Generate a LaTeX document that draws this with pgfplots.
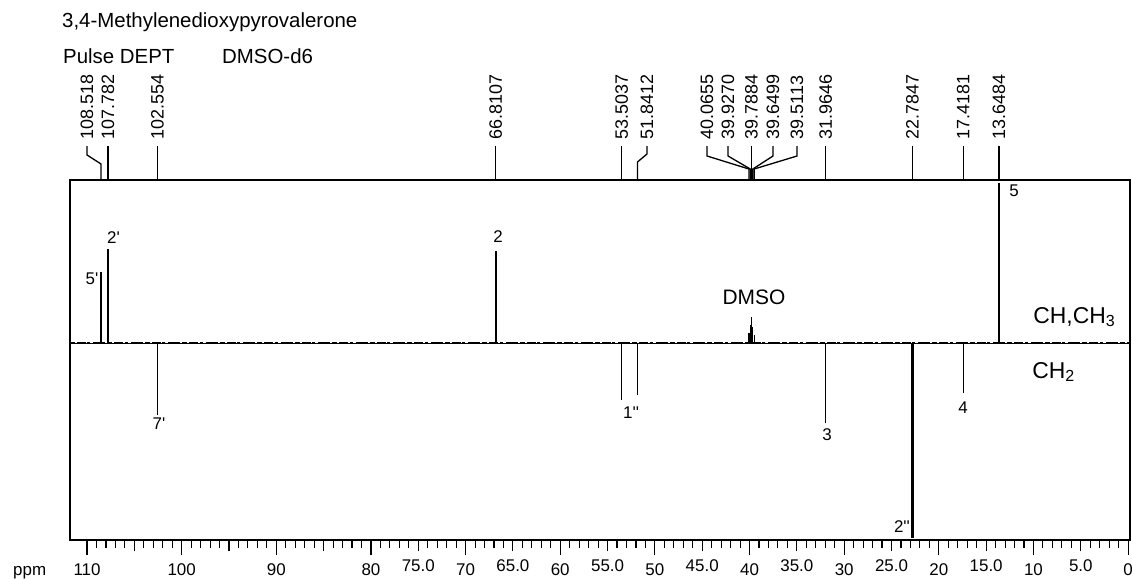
\documentclass[border=0pt]{standalone}
\usepackage{fontspec}
\setmainfont{Liberation Sans}[Ligatures=TeXOff]
\usepackage{pgfplots}
\pgfplotsset{compat=1.18}

\begin{document}
\begin{tikzpicture}
\path[use as bounding box] (-70bp,-39bp) rectangle (1062bp,540bp);
\begin{axis}[
	at={(0,0)}, anchor=south west,
	scale only axis, width=1060bp, height=360bp,
	xmin=-0.2, xmax=111.8, ymin=-197, ymax=163,
	x dir=reverse, clip=false,
	ytick=\empty, xtick pos=left, tick align=outside,
	xtick={0,10,20,30,40,50,60,70,80,90,100,110},
	xticklabels={0,10,20,30,40,50,60,70,80,90,100,110},
	extra x ticks={5,15,25,35,45,55,65,75,85,95,105},
	extra x tick labels={5.0,15.0,25.0,35.0,45.0,55.0,65.0,75.0,,,},
	extra x tick style={major tick length=11bp},
	minor x tick num=9,
	major tick length=15bp, minor tick length=8bp,
	tick style={line width=1.1bp, black},
	axis line style={line width=1.3bp},
	xticklabel style={font=\fontsize{17}{20}\selectfont, anchor=base, yshift=-20bp},
]
% baseline with noise
\addplot[line width=0.8bp, no marks] coordinates {(111.8,0) (-0.2,0)};
\addplot[line width=2.2bp, no marks, dash pattern=on 5bp off 2bp on 9bp off 1.5bp on 3bp off 3bp on 12bp off 2bp] coordinates {(111.8,0) (-0.2,0)};
% peaks
\addplot[ycomb, line width=1.5bp, no marks] coordinates {
(108.518,71) (107.782,94) (102.554,-72) (66.8107,92) (53.5037,-57)
(51.8412,-52) (31.9646,-80) (17.4181,-50) (13.6484,160)};
\addplot[ycomb, line width=2.2bp, no marks] coordinates {(22.7847,-195)};
\addplot[ycomb, line width=1.2bp, no marks] coordinates {
(40.0655,10) (39.9270,18) (39.7884,26) (39.6499,16) (39.5113,8)};

% peak assignments
\begin{scope}[font=\fontsize{17}{20}\selectfont]
\node at (axis cs:109.48,64) {5'};
\node at (axis cs:107.2,105) {2'};
\node at (axis cs:102.4,-81) {7'};
\node at (axis cs:66.58,106) {2};
\node at (axis cs:52.52,-70) {1''};
\node at (axis cs:31.81,-92) {3};
\node at (axis cs:17.44,-65) {4};
\node at (axis cs:23.89,-184) {2''};
\node at (axis cs:12.05,152) {5};
\end{scope}
\node[font=\fontsize{21}{24}\selectfont] at (axis cs:39.53,46) {DMSO};
\node[font=\fontsize{23}{26}\selectfont, anchor=base west, inner sep=0] at (axis cs:10.04,20) {CH,CH\textsubscript{3}};
\node[font=\fontsize{23}{26}\selectfont, anchor=base west, inner sep=0] at (axis cs:10.14,-35) {CH\textsubscript{2}};

% chemical shift labels above the box
\begin{scope}[line width=1.3bp]
\pgfplotsinvokeforeach{107.782,102.554,66.8107,53.5037,39.7884,31.9646,22.7847,17.4181,13.6484}{
	\draw (axis cs:#1,197) -- (axis cs:#1,163);
	\node[rotate=90, anchor=west, inner sep=0, font=\fontsize{18}{20}\selectfont] at (axis cs:#1,203) {#1};
}
\draw (axis cs:110.0,197) -- (axis cs:110.0,188) -- (axis cs:108.518,179) -- (axis cs:108.518,163);
\node[rotate=90, anchor=west, inner sep=0, font=\fontsize{18}{20}\selectfont] at (axis cs:110.0,203) {108.518};
\draw (axis cs:50.83,197) -- (axis cs:50.83,189) -- (axis cs:51.8412,181) -- (axis cs:51.8412,163);
\node[rotate=90, anchor=west, inner sep=0, font=\fontsize{18}{20}\selectfont] at (axis cs:50.83,203) {51.8412};
\draw (axis cs:44.49,197) -- (axis cs:44.49,187) -- (axis cs:40.0655,174) -- (axis cs:40.0655,163);
\node[rotate=90, anchor=west, inner sep=0, font=\fontsize{18}{20}\selectfont] at (axis cs:44.49,203) {40.0655};
\draw (axis cs:42.27,197) -- (axis cs:42.27,187) -- (axis cs:39.9270,174) -- (axis cs:39.9270,163);
\node[rotate=90, anchor=west, inner sep=0, font=\fontsize{18}{20}\selectfont] at (axis cs:42.27,203) {39.9270};
\draw (axis cs:37.52,197) -- (axis cs:37.52,187) -- (axis cs:39.6499,174) -- (axis cs:39.6499,163);
\node[rotate=90, anchor=west, inner sep=0, font=\fontsize{18}{20}\selectfont] at (axis cs:37.52,203) {39.6499};
\draw (axis cs:34.98,197) -- (axis cs:34.98,187) -- (axis cs:39.5113,174) -- (axis cs:39.5113,163);
\node[rotate=90, anchor=west, inner sep=0, font=\fontsize{18}{20}\selectfont] at (axis cs:34.98,203) {39.5113};
\end{scope}
\end{axis}
\node[anchor=base west, inner sep=0, font=\fontsize{20.5}{24}\selectfont] at (-8bp,512bp) {3,4-Methylenedioxypyrovalerone};
\node[anchor=base west, inner sep=0, font=\fontsize{20.5}{24}\selectfont] at (-7bp,476bp) {Pulse DEPT};
\node[anchor=base west, inner sep=0, font=\fontsize{20.5}{24}\selectfont] at (152bp,476bp) {DMSO-d6};
\node[anchor=base west, inner sep=0, font=\fontsize{17}{20}\selectfont] at (-57bp,-35bp) {ppm};
\end{tikzpicture}
\end{document}
